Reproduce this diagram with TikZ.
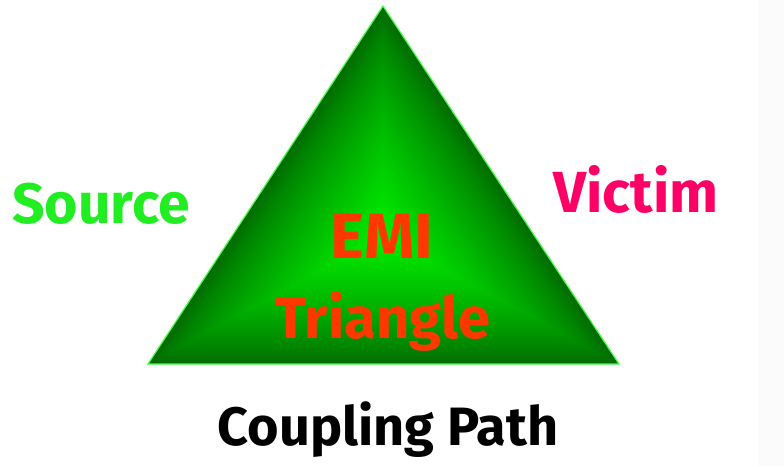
\documentclass[tikz,border=0pt]{standalone}
\usepackage{fontspec}
\setmainfont{Fira Sans}
\usepackage{xcolor}
\usetikzlibrary{calc}
\definecolor{srcgreen}{RGB}{34,236,34}
\definecolor{vicpink}{RGB}{255,0,102}
\definecolor{emired}{RGB}{255,56,0}
\definecolor{tribright}{RGB}{0,238,0}
\definecolor{tridark}{RGB}{0,104,0}
\definecolor{triedge}{RGB}{70,255,70}

\begin{document}
\begin{tikzpicture}[x=1pt,y=-1pt,
  lbl/.style={anchor=base, inner sep=0, font=\bfseries\fontsize{#1}{#1}\selectfont}]
\useasboundingbox (0,0) rectangle (784,466);
\fill[black!1.5] (758,0) rectangle (784,466);
% triangle corners and incentre
\coordinate (apex) at (383,6);
\coordinate (bl) at (148,364);
\coordinate (br) at (619,364);
\coordinate (inc) at (383,237);
% bevelled fill: shrinking copies towards the incentre
\foreach \k [evaluate=\k as \s using 1-\k/60, evaluate=\k as \m using 100*(\k/59)^0.75] in {0,...,59} {
 \fill[tribright!\m!tridark] ($(inc)!\s!(apex)$) -- ($(inc)!\s!(bl)$) -- ($(inc)!\s!(br)$) -- cycle;
}
\draw[triedge, line width=1.2, line join=miter] (apex) -- (bl) -- (br) -- cycle;
% labels
\node[lbl=57, text=srcgreen] (source) at (101,223) {Source};
\node[lbl=58, text=vicpink] (victim) at (636,212) {Victim};
\node[lbl=64, text=emired] (emi) at (382,258) {EMI};
\node[lbl=58, text=emired] (tri) at (383,338) {Triangle};
\node[lbl=54, text=black] (coupling) at (388,445) {Coupling Path};
\end{tikzpicture}
\end{document}
